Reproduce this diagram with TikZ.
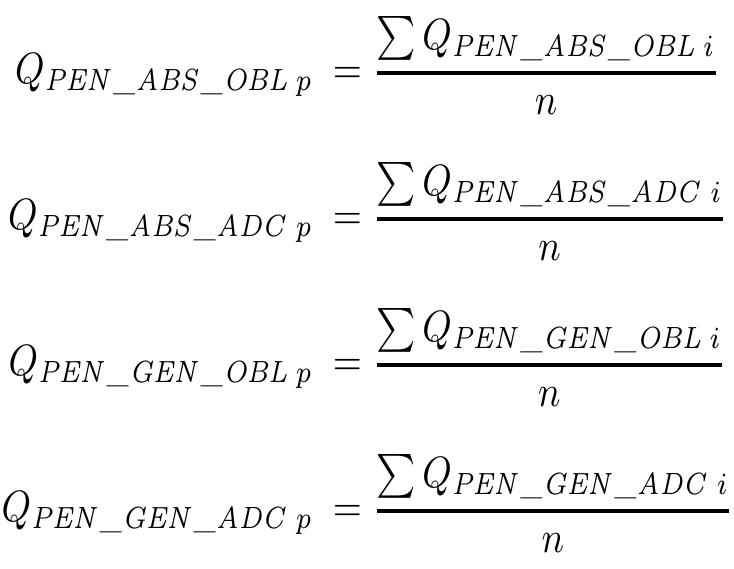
\documentclass[tikz,border=0pt]{standalone}
\usepackage{amsmath}
\newcommand{\myfr}[2]{\genfrac{}{}{0.8pt}{0}{#1}{#2}}
\newcommand{\us}{\text{\kern0.02em\_\kern0.02em}}
\tikzset{eq/.style={inner sep=0pt, xscale=3.75, yscale=4.4}}
\begin{document}
\begin{tikzpicture}[x=1bp,y=1bp]
\useasboundingbox[fill=white] (0,0) rectangle (734,569);
\node[eq, anchor=base east] (l1) at (314,485) {$Q_{\mathit{PEN\us ABS\us OBL}\;p}$};
\node[eq, anchor=base west] (r1) at (332,485) {$=\myfr{\sum Q_{\mathit{PEN\us ABS\us OBL}\;i}}{n}$};
\node[eq, anchor=base east] (l2) at (314,339) {$Q_{\mathit{PEN\us ABS\us ADC}\;p}$};
\node[eq, anchor=base west] (r2) at (332,339) {$=\myfr{\sum Q_{\mathit{PEN\us ABS\us ADC}\;i}}{n}$};
\node[eq, anchor=base east] (l3) at (314,193) {$Q_{\mathit{PEN\us GEN\us OBL}\;p}$};
\node[eq, anchor=base west] (r3) at (332,193) {$=\myfr{\sum Q_{\mathit{PEN\us GEN\us OBL}\;i}}{n}$};
\node[eq, anchor=base east] (l4) at (314,47) {$Q_{\mathit{PEN\us GEN\us ADC}\;p}$};
\node[eq, anchor=base west] (r4) at (332,47) {$=\myfr{\sum Q_{\mathit{PEN\us GEN\us ADC}\;i}}{n}$};
\end{tikzpicture}
\end{document}
